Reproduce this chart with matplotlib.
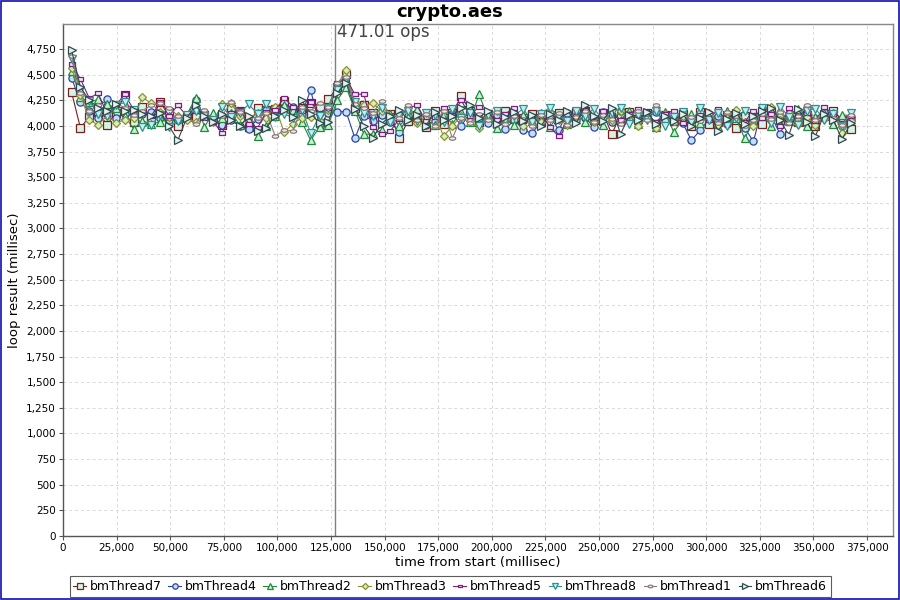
import matplotlib
matplotlib.use("Agg")
import matplotlib.pyplot as plt
from matplotlib.ticker import FuncFormatter, MultipleLocator
from matplotlib.patches import Rectangle
from matplotlib.path import Path
import numpy as np

times = [4000, 8130, 12260, 16390, 20520, 24650, 28780, 32910, 37040, 41170,
         45300, 49430, 53560, 57690, 61820, 65950, 70080, 74210, 78340, 82470,
         86600, 90730, 94860, 98990, 103120, 107250, 111380, 115510, 119640, 123770,
         127900, 132030, 136160, 140290, 144420, 148550, 152680, 156810, 160940, 165070,
         169200, 173330, 177460, 181590, 185720, 189850, 193980, 198110, 202240, 206370,
         210500, 214630, 218760, 222890, 227020, 231150, 235280, 239410, 243540, 247670,
         251800, 255930, 260060, 264190, 268320, 272450, 276580, 280710, 284840, 288970,
         293100, 297230, 301360, 305490, 309620, 313750, 317880, 322010, 326140, 330270,
         334400, 338530, 342660, 346790, 350920, 355050, 359180, 363310, 367440]

bmThread7 = [4330, 3980, 4090, 4140, 4010, 4130, 4300, 4040, 4190, 4060,
             4230, 4140, 4000, 4090, 4090, 4110, 4070, 4010, 4170, 4150,
             3990, 4180, 4160, 4170, 4240, 4130, 4180, 4220, 4180, 4260,
             4380, 4510, 4180, 4200, 4130, 4060, 4120, 3880, 4050, 4090,
             3990, 4150, 4020, 4130, 4290, 4150, 4040, 4120, 4060, 4150,
             4070, 4080, 4120, 4040, 4110, 4130, 4100, 4140, 4150, 4060,
             4130, 3920, 4110, 4140, 4070, 4130, 4020, 4110, 4050, 4120,
             4000, 4140, 4020, 4040, 4110, 3980, 4100, 4060, 4020, 4150,
             4060, 4090, 4040, 4110, 4000, 4100, 4150, 4060, 3970]
bmThread4 = [4470, 4230, 4150, 4080, 4260, 4080, 4120, 4100, 4120, 4140,
             4080, 4060, 4060, 4090, 4250, 4100, 4050, 4010, 4060, 4000,
             3970, 4070, 4160, 4140, 4190, 4190, 4120, 4350, 4000, 4130,
             4140, 4140, 3880, 4100, 4050, 4110, 4040, 3940, 4100, 4070,
             4010, 4050, 4100, 4120, 4000, 4130, 4080, 4030, 4110, 3970,
             4060, 3960, 3930, 4040, 4100, 3960, 4130, 4060, 4080, 3990,
             4140, 4040, 4150, 4060, 4040, 4130, 4140, 4050, 4100, 4030,
             3860, 3960, 4070, 4100, 4020, 4120, 3980, 3850, 4180, 4100,
             3920, 4120, 4080, 4180, 4020, 4140, 4080, 4000, 4090]
bmThread2 = [4540, 4280, 4230, 4260, 4210, 4180, 4100, 3970, 4050, 4020,
             4040, 4100, 4080, 4110, 4270, 3990, 4130, 4080, 4130, 4010,
             4070, 3900, 4000, 4100, 4200, 4160, 4040, 3860, 3990, 4010,
             4250, 4380, 4150, 3920, 3920, 3960, 4120, 4000, 4090, 4170,
             4060, 4010, 4120, 4020, 4140, 4040, 4310, 4090, 3980, 4080,
             4010, 4110, 4050, 4130, 3990, 4100, 4020, 4120, 4040, 4090,
             4010, 4130, 4060, 4150, 4020, 4110, 3990, 4140, 3940, 4060,
             4120, 4030, 4090, 3990, 4150, 4080, 3880, 4040, 4110, 4000,
             4130, 4050, 4170, 4000, 4090, 4130, 4020, 4110, 4100]
bmThread3 = [4570, 4300, 4060, 4010, 4100, 4030, 4060, 4080, 4280, 4220,
             4140, 4090, 4100, 4060, 4040, 4120, 4040, 4210, 4220, 4100,
             4050, 4130, 4080, 4190, 3940, 4020, 4080, 4090, 4050, 4160,
             4400, 4550, 4230, 4200, 4220, 4150, 4070, 4120, 4150, 4030,
             4080, 4120, 3900, 4000, 4100, 4050, 3980, 4110, 4030, 4080,
             4120, 4000, 4070, 4040, 4140, 4060, 4010, 4090, 4130, 4040,
             4100, 4060, 4150, 4110, 4000, 4080, 3980, 4120, 4050, 4100,
             4020, 4070, 4130, 4010, 4080, 4160, 4040, 4000, 4110, 4190,
             4060, 4130, 4020, 4090, 4010, 4070, 4130, 3930, 4050]
bmThread5 = [4600, 4460, 4270, 4320, 4120, 4200, 4310, 4160, 4140, 4100,
             4230, 4100, 4200, 4100, 4150, 4080, 4040, 3930, 4130, 4160,
             4020, 3980, 4140, 4160, 4270, 4190, 4150, 4230, 4130, 4180,
             4420, 4460, 4310, 4310, 3990, 3920, 3950, 4070, 4180, 4200,
             4050, 4090, 4180, 4110, 4250, 4100, 4190, 4140, 4060, 4120,
             4180, 4050, 4100, 4120, 3990, 3900, 4070, 4100, 4160, 4050,
             4150, 4110, 4060, 4120, 4170, 4080, 4040, 4120, 4150, 4030,
             4080, 4110, 4060, 4170, 4020, 4100, 4040, 4150, 4080, 4120,
             4000, 4180, 4100, 4130, 4050, 4190, 4110, 4030, 4100]
bmThread8 = [4650, 4350, 4240, 4120, 4100, 4200, 4230, 4160, 3990, 4010,
             4110, 3990, 4050, 4110, 4150, 4100, 4060, 4190, 4090, 4130,
             4210, 4120, 4210, 4090, 4120, 4080, 4160, 3930, 4100, 4180,
             4350, 4450, 4230, 4130, 4100, 4180, 4040, 4100, 4150, 4050,
             4130, 4110, 4040, 4170, 4080, 4130, 4000, 4110, 4150, 4060,
             4100, 4170, 4040, 4120, 4180, 4080, 4050, 4150, 4100, 4170,
             4060, 4130, 4180, 4020, 4110, 4060, 4150, 4000, 4090, 4140,
             4040, 4180, 4060, 4130, 4000, 4080, 4150, 4070, 4180, 4030,
             4190, 4090, 4010, 4150, 4170, 4060, 4120, 4000, 4130]
bmThread1 = [4680, 4320, 4150, 4200, 4140, 4220, 4180, 4110, 4150, 4200,
             4220, 4180, 4100, 4100, 4020, 4160, 4050, 4100, 4230, 4140,
             4090, 4080, 4130, 3900, 3960, 3950, 4190, 4150, 4220, 4190,
             4420, 4480, 4210, 4180, 4130, 4240, 4110, 4080, 4200, 4060,
             4120, 4000, 4150, 3880, 4080, 4030, 4120, 4060, 4140, 4020,
             4100, 4070, 4000, 4110, 4060, 4130, 4010, 4090, 4150, 4040,
             4110, 4070, 4020, 4100, 4150, 4060, 4200, 4100, 4030, 4130,
             4090, 4050, 4120, 4030, 4140, 4100, 4000, 4060, 4120, 4070,
             4140, 4030, 4100, 4200, 4060, 4120, 4080, 4010, 4110]
bmThread6 = [4740, 4380, 4250, 4180, 4150, 4210, 4150, 4160, 4120, 4100,
             4130, 4000, 3860, 4080, 4200, 4100, 4040, 4120, 4060, 4000,
             4100, 3950, 3980, 4100, 4160, 4090, 4250, 4120, 4030, 4040,
             4320, 4420, 4170, 4000, 3880, 4020, 4100, 4160, 4060, 4110,
             4000, 4140, 4060, 4100, 4180, 4200, 4080, 4150, 4020, 4090,
             4140, 4050, 4110, 4000, 4120, 4060, 4150, 4030, 4200, 4100,
             4050, 4180, 3920, 4110, 4060, 4140, 4020, 4100, 4050, 4120,
             4000, 4080, 4140, 3950, 4070, 4130, 4020, 4100, 4150, 4180,
             4060, 3910, 4170, 4040, 3900, 4120, 4060, 3870, 4030]

series_names = ["bmThread7", "bmThread4", "bmThread2", "bmThread3",
                "bmThread5", "bmThread8", "bmThread1", "bmThread6"]
series_values = [bmThread7, bmThread4, bmThread2, bmThread3,
                 bmThread5, bmThread8, bmThread1, bmThread6]
line_colors = ["#7a1f1f", "#2f3fa0", "#1f8a3a", "#8f8f2a",
               "#7f1f7f", "#2f9090", "#8a7a7a", "#2f4a4a"]
face_colors = ["#d3f5e4", "#bfe0f5", "#c5f0d6", "#d3efc2",
               "#f0e6f5", "#c2eef0", "#ecece2", "#e6f2f2"]
marker_sizes = [5.2, 5.2, 5.2, 4.2, 4.6, 5.2, 4.6, 5.2]

steady_time = 126700
ops_label = "471.01 ops"


def wide_rect():
    return Path([(-1, -0.5), (1, -0.5), (1, 0.5), (-1, 0.5), (-1, -0.5)],
                [Path.MOVETO, Path.LINETO, Path.LINETO, Path.LINETO, Path.CLOSEPOLY])


def ellipse():
    t = np.linspace(0, 2 * np.pi, 33)
    return Path(np.column_stack([np.cos(t), 0.55 * np.sin(t)]))


marker_objs = ["s", "o", "^", "D", wide_rect(), "v", ellipse(), ">"]

fig = plt.figure(figsize=(9, 6), dpi=100)
ax = fig.add_axes([0.07, 0.1067, 0.922, 0.8533])

for name, vals, lc, fc, mk, ms in zip(series_names, series_values, line_colors,
                                      face_colors, marker_objs, marker_sizes):
    ax.plot(times, vals, color=lc, lw=0.8, marker=mk, markersize=ms,
            markerfacecolor=fc, markeredgecolor=lc, markeredgewidth=0.9,
            label=name)

ax.axvline(steady_time, color="#808080", lw=1.0, zorder=1)
ax.text(steady_time + 1000, 5000, ops_label, fontsize=12, color="#444444",
        ha="left", va="top")

ax.set_xlim(0, 387000)
ax.set_ylim(0, 4995)
ax.xaxis.set_major_locator(MultipleLocator(25000))
ax.yaxis.set_major_locator(MultipleLocator(250))
fmt = FuncFormatter(lambda v, p: f"{int(v):,}")
ax.xaxis.set_major_formatter(fmt)
ax.yaxis.set_major_formatter(fmt)
ax.tick_params(labelsize=7.5, length=3, color="#555555", pad=2)
ax.grid(True, color="#d9d9d9", linestyle=(0, (3, 3)), lw=0.7)
ax.set_axisbelow(True)
for s in ax.spines.values():
    s.set_color("#888888")
    s.set_linewidth(1.0)
ax.spines["left"].set_color("#555555")
ax.spines["bottom"].set_color("#555555")

ax.set_xlabel("time from start (millisec)", fontsize=9.5, labelpad=2)
ax.set_ylabel("loop result (millisec)", fontsize=9.5, labelpad=4)
fig.text(0.5, 0.98, "crypto.aes", ha="center", va="center",
         fontsize=13, fontweight="bold")

leg = fig.legend(loc="lower center", bbox_to_anchor=(0.5, 0.0), ncol=8,
                 fontsize=9, frameon=True, fancybox=False, handlelength=1.0,
                 handletextpad=0.3, columnspacing=0.55, borderpad=0.3,
                 borderaxespad=0.25, markerscale=0.75)
leg.get_frame().set_edgecolor("#333333")
leg.get_frame().set_linewidth(0.8)

fig.patches.append(Rectangle((0.0006, 0.001), 0.9988, 0.998, transform=fig.transFigure,
                             fill=False, edgecolor="#1010a8", lw=1.2))

fig.savefig("out.png", dpi=100)
